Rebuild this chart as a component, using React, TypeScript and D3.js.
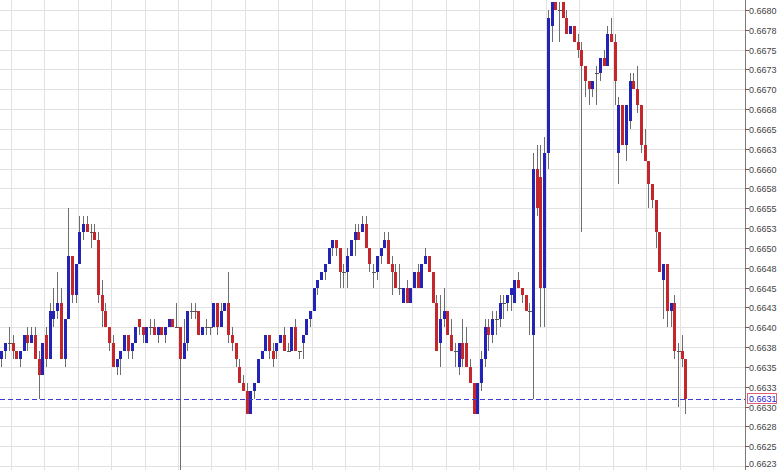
import React from "react";
import * as d3 from "d3";

// OHLC quotes, one bar per period, oldest first
const opens = [
  0.6636, 0.6637, 0.6638, 0.6638, 0.6637, 0.6636, 0.6637, 0.6639, 0.6638, 0.6639,
  0.6636, 0.6634, 0.6639, 0.6636, 0.6641, 0.6642, 0.6643, 0.6636, 0.6641, 0.6649,
  0.6644, 0.6648, 0.6652, 0.6653, 0.6652, 0.6652, 0.6651, 0.6644, 0.6642, 0.6640,
  0.6638, 0.6635, 0.6636, 0.6637, 0.6639, 0.6637, 0.6638, 0.6641, 0.6640, 0.6638,
  0.6640, 0.6640, 0.6639, 0.6640, 0.6639, 0.6640, 0.6641, 0.6640, 0.6640, 0.6636,
  0.6638, 0.6642, 0.6642, 0.6642, 0.6639, 0.6640, 0.6640, 0.6640, 0.6643, 0.6640,
  0.6642, 0.6643, 0.6639, 0.6638, 0.6635, 0.6633, 0.6632, 0.6629, 0.6632, 0.6633,
  0.6636, 0.6637, 0.6639, 0.6637, 0.6637, 0.6638, 0.6639, 0.6637, 0.6637, 0.6640,
  0.6637, 0.6638, 0.6639, 0.6641, 0.6642, 0.6645, 0.6646, 0.6647, 0.6648, 0.6650,
  0.6651, 0.6650, 0.6647, 0.6647, 0.6649, 0.6651, 0.6652, 0.6652, 0.6653, 0.6650,
  0.6647, 0.6647, 0.6649, 0.6650, 0.6651, 0.6648, 0.6647, 0.6645, 0.6643, 0.6645,
  0.6643, 0.6645, 0.6647, 0.6645, 0.6648, 0.6649, 0.6647, 0.6643, 0.6638, 0.6641,
  0.6642, 0.6639, 0.6637, 0.6635, 0.6638, 0.6638, 0.6635, 0.6633, 0.6629, 0.6633,
  0.6636, 0.6640, 0.6639, 0.6641, 0.6641, 0.6643, 0.6643, 0.6644, 0.6643, 0.6646,
  0.6645, 0.6644, 0.6642, 0.6639, 0.6660, 0.6659, 0.6645, 0.6662, 0.6678, 0.6681,
  0.6680, 0.6681, 0.6679, 0.6677, 0.6678, 0.6676, 0.6675, 0.6673, 0.6671, 0.6670,
  0.6672, 0.6672, 0.6674, 0.6673, 0.6677, 0.6676, 0.6662, 0.6668, 0.6663, 0.6666,
  0.6671, 0.6670, 0.6668, 0.6663, 0.6661, 0.6658, 0.6656, 0.6652, 0.6646, 0.6648,
  0.6642, 0.6643, 0.6637, 0.6637, 0.6636,
];

const highs = [
  0.6637, 0.6638, 0.6640, 0.6639, 0.6637, 0.6637, 0.6639, 0.6640, 0.6640, 0.6640,
  0.6637, 0.6638, 0.6640, 0.6643, 0.6645, 0.6647, 0.6645, 0.6641, 0.6655, 0.6649,
  0.6648, 0.6654, 0.6654, 0.6654, 0.6653, 0.6653, 0.6652, 0.6646, 0.6643, 0.6640,
  0.6639, 0.6636, 0.6637, 0.6639, 0.6639, 0.6638, 0.6640, 0.6641, 0.6640, 0.6640,
  0.6641, 0.6641, 0.6640, 0.6640, 0.6640, 0.6641, 0.6641, 0.6643, 0.6640, 0.6641,
  0.6642, 0.6643, 0.6643, 0.6642, 0.6640, 0.6641, 0.6640, 0.6643, 0.6643, 0.6643,
  0.6643, 0.6647, 0.6640, 0.6638, 0.6636, 0.6634, 0.6633, 0.6632, 0.6633, 0.6636,
  0.6637, 0.6639, 0.6639, 0.6638, 0.6638, 0.6639, 0.6640, 0.6638, 0.6640, 0.6641,
  0.6637, 0.6639, 0.6641, 0.6642, 0.6645, 0.6646, 0.6647, 0.6648, 0.6650, 0.6651,
  0.6651, 0.6650, 0.6648, 0.6650, 0.6651, 0.6653, 0.6653, 0.6654, 0.6654, 0.6650,
  0.6648, 0.6649, 0.6650, 0.6652, 0.6652, 0.6649, 0.6648, 0.6648, 0.6645, 0.6646,
  0.6645, 0.6647, 0.6648, 0.6648, 0.6650, 0.6649, 0.6647, 0.6644, 0.6644, 0.6645,
  0.6642, 0.6641, 0.6638, 0.6638, 0.6641, 0.6640, 0.6636, 0.6633, 0.6633, 0.6637,
  0.6641, 0.6641, 0.6642, 0.6642, 0.6644, 0.6644, 0.6644, 0.6645, 0.6646, 0.6647,
  0.6645, 0.6644, 0.6643, 0.6662, 0.6663, 0.6663, 0.6664, 0.6680, 0.6681, 0.6681,
  0.6681, 0.6681, 0.6680, 0.6678, 0.6678, 0.6677, 0.6676, 0.6673, 0.6671, 0.6671,
  0.6673, 0.6674, 0.6675, 0.6678, 0.6679, 0.6677, 0.6669, 0.6668, 0.6668, 0.6672,
  0.6672, 0.6673, 0.6668, 0.6665, 0.6661, 0.6658, 0.6656, 0.6652, 0.6648, 0.6648,
  0.6643, 0.6644, 0.6638, 0.6639, 0.6636,
];

const lows = [
  0.6635, 0.6636, 0.6637, 0.6636, 0.6636, 0.6635, 0.6637, 0.6637, 0.6638, 0.6636,
  0.6631, 0.6634, 0.6635, 0.6636, 0.6640, 0.6641, 0.6636, 0.6635, 0.6641, 0.6643,
  0.6643, 0.6648, 0.6651, 0.6652, 0.6650, 0.6651, 0.6643, 0.6640, 0.6640, 0.6637,
  0.6635, 0.6634, 0.6634, 0.6637, 0.6636, 0.6636, 0.6638, 0.6639, 0.6638, 0.6638,
  0.6639, 0.6639, 0.6638, 0.6639, 0.6638, 0.6640, 0.6640, 0.6640, 0.6622, 0.6636,
  0.6637, 0.6641, 0.6641, 0.6639, 0.6639, 0.6639, 0.6639, 0.6640, 0.6639, 0.6640,
  0.6642, 0.6638, 0.6637, 0.6635, 0.6633, 0.6632, 0.6629, 0.6629, 0.6631, 0.6633,
  0.6636, 0.6637, 0.6636, 0.6635, 0.6636, 0.6638, 0.6637, 0.6637, 0.6637, 0.6637,
  0.6636, 0.6636, 0.6639, 0.6640, 0.6642, 0.6644, 0.6646, 0.6646, 0.6648, 0.6649,
  0.6649, 0.6645, 0.6645, 0.6645, 0.6649, 0.6649, 0.6651, 0.6652, 0.6650, 0.6647,
  0.6645, 0.6646, 0.6648, 0.6650, 0.6648, 0.6644, 0.6645, 0.6644, 0.6643, 0.6643,
  0.6643, 0.6645, 0.6645, 0.6645, 0.6648, 0.6647, 0.6643, 0.6637, 0.6635, 0.6640,
  0.6639, 0.6637, 0.6635, 0.6634, 0.6635, 0.6635, 0.6633, 0.6629, 0.6629, 0.6632,
  0.6635, 0.6637, 0.6638, 0.6639, 0.6640, 0.6641, 0.6642, 0.6642, 0.6643, 0.6645,
  0.6643, 0.6642, 0.6639, 0.6631, 0.6654, 0.6640, 0.6640, 0.6660, 0.6676, 0.6680,
  0.6676, 0.6679, 0.6677, 0.6677, 0.6676, 0.6674, 0.6652, 0.6669, 0.6668, 0.6669,
  0.6668, 0.6671, 0.6673, 0.6673, 0.6676, 0.6668, 0.6658, 0.6663, 0.6661, 0.6665,
  0.6670, 0.6667, 0.6662, 0.6661, 0.6655, 0.6655, 0.6650, 0.6647, 0.6641, 0.6640,
  0.6640, 0.6636, 0.6630, 0.6635, 0.6629,
];

const closes = [
  0.6637, 0.6638, 0.6638, 0.6637, 0.6636, 0.6637, 0.6639, 0.6638, 0.6639, 0.6636,
  0.6634, 0.6638, 0.6636, 0.6642, 0.6642, 0.6643, 0.6636, 0.6641, 0.6649, 0.6644,
  0.6648, 0.6652, 0.6653, 0.6652, 0.6652, 0.6651, 0.6644, 0.6642, 0.6640, 0.6638,
  0.6635, 0.6636, 0.6637, 0.6639, 0.6637, 0.6638, 0.6640, 0.6640, 0.6639, 0.6640,
  0.6640, 0.6639, 0.6640, 0.6639, 0.6640, 0.6641, 0.6640, 0.6640, 0.6636, 0.6638,
  0.6642, 0.6642, 0.6642, 0.6639, 0.6640, 0.6640, 0.6640, 0.6643, 0.6640, 0.6642,
  0.6643, 0.6639, 0.6638, 0.6636, 0.6633, 0.6632, 0.6629, 0.6632, 0.6633, 0.6636,
  0.6637, 0.6639, 0.6637, 0.6636, 0.6638, 0.6639, 0.6637, 0.6637, 0.6640, 0.6637,
  0.6637, 0.6639, 0.6641, 0.6642, 0.6645, 0.6646, 0.6647, 0.6648, 0.6650, 0.6651,
  0.6650, 0.6647, 0.6647, 0.6649, 0.6651, 0.6652, 0.6651, 0.6653, 0.6650, 0.6648,
  0.6647, 0.6649, 0.6650, 0.6651, 0.6648, 0.6647, 0.6645, 0.6645, 0.6645, 0.6643,
  0.6645, 0.6647, 0.6645, 0.6648, 0.6649, 0.6647, 0.6643, 0.6637, 0.6641, 0.6642,
  0.6639, 0.6637, 0.6637, 0.6638, 0.6636, 0.6635, 0.6633, 0.6629, 0.6633, 0.6636,
  0.6640, 0.6639, 0.6641, 0.6641, 0.6643, 0.6643, 0.6644, 0.6645, 0.6646, 0.6645,
  0.6644, 0.6642, 0.6642, 0.6660, 0.6655, 0.6645, 0.6662, 0.6679, 0.6681, 0.6680,
  0.6680, 0.6679, 0.6677, 0.6678, 0.6676, 0.6675, 0.6673, 0.6671, 0.6670, 0.6671,
  0.6672, 0.6674, 0.6673, 0.6677, 0.6676, 0.6671, 0.6668, 0.6663, 0.6668, 0.6671,
  0.6670, 0.6668, 0.6663, 0.6661, 0.6658, 0.6656, 0.6652, 0.6647, 0.6648, 0.6642,
  0.6643, 0.6637, 0.6637, 0.6636, 0.6631,
];

// Price axis ticks (quarter-pip steps) and their printed labels
const tickValues = [
  0.668, 0.66775, 0.6675, 0.66725, 0.667, 0.66675, 0.6665, 0.66625,
  0.666, 0.66575, 0.6655, 0.66525, 0.665, 0.66475, 0.6645, 0.66425,
  0.664, 0.66375, 0.6635, 0.66325, 0.663, 0.66275, 0.6625, 0.66225,
];
const tickLabels = [
  "0.6680", "0.6678", "0.6675", "0.6673", "0.6670", "0.6668", "0.6665", "0.6663",
  "0.6660", "0.6658", "0.6655", "0.6653", "0.6650", "0.6648", "0.6645", "0.6643",
  "0.6640", "0.6638", "0.6635", "0.6633", "0.6630", "0.6628", "0.6625", "0.6623",
];

const W = 780;
const H = 470;
const PLOT_R = 745;
const UP = "#2323b6";
const DOWN = "#c3272c";
const WICK = "#6e6e6e";
const GRID = "#e2e2e2";
const BARS_PER_GRID = 9;

export default function App() {
  const n = opens.length;
  const x = d3.scaleLinear().domain([0, n - 1]).range([1.4, 685.4]);
  const y = d3.scaleLinear().domain([0.66225, 0.668]).range([466, 10]);

  const gridX: number[] = [];
  for (let i = 2.5; x(i) < PLOT_R; i += BARS_PER_GRID) gridX.push(Math.round(x(i)) + 0.5);

  const last = closes[n - 1];
  const yLast = Math.round(y(last)) + 0.5;

  return (
    <svg
      width={W}
      height={H}
      style={{ position: "absolute", left: 0, top: 0, background: "#fff" }}
      fontFamily="'Liberation Sans', Arial, sans-serif"
    >
      <defs>
        <clipPath id="plot">
          <rect x={0} y={0} width={PLOT_R} height={H} />
        </clipPath>
      </defs>

      {/* grid */}
      <g stroke={GRID} strokeWidth={1}>
        {tickValues.map((v) => {
          const yy = Math.round(y(v)) + 0.5;
          return <line key={"h" + v} x1={0} x2={PLOT_R} y1={yy} y2={yy} />;
        })}
        {gridX.map((gx) => (
          <line key={"v" + gx} x1={gx} x2={gx} y1={0} y2={H} />
        ))}
      </g>

      {/* candles */}
      <g clipPath="url(#plot)">
        {opens.map((o, i) => {
          const c = closes[i];
          const cx = Math.round(x(i));
          const yH = Math.round(y(highs[i]));
          const yL = Math.round(y(lows[i]));
          const yO = Math.round(y(o));
          const yC = Math.round(y(c));
          const top = Math.min(yO, yC);
          const h = Math.abs(yO - yC);
          return (
            <g key={i}>
              <rect x={cx} y={yH} width={1} height={Math.max(1, yL - yH)} fill={WICK} />
              {h === 0 ? (
                <rect x={cx - 1} y={top} width={4} height={1} fill="#555" />
              ) : (
                <rect x={cx - 1} y={top} width={3} height={h} fill={c > o ? UP : DOWN} />
              )}
            </g>
          );
        })}
      </g>

      {/* last price line */}
      <line
        x1={0}
        x2={PLOT_R}
        y1={yLast}
        y2={yLast}
        stroke="#3c3cd8"
        strokeWidth={1}
        strokeDasharray="5,3"
      />

      {/* price axis */}
      <line x1={PLOT_R + 0.5} x2={PLOT_R + 0.5} y1={0} y2={H} stroke="#7a7a7a" />
      {tickValues.map((v, k) => {
        const yy = Math.round(y(v)) + 0.5;
        const ty = Math.min(yy, H - 6);
        return (
          <g key={"t" + v}>
            <line x1={PLOT_R} x2={PLOT_R + 4} y1={yy} y2={yy} stroke="#7a5a5a" />
            <text x={PLOT_R + 4} y={ty} dy="0.35em" fontSize={9} fill="#444">
              {tickLabels[k]}
            </text>
          </g>
        );
      })}

      {/* last price marker */}
      <rect
        x={PLOT_R + 2.5}
        y={yLast - 6}
        width={29}
        height={10}
        fill="#fff"
        stroke="#e0607c"
      />
      <text x={PLOT_R + 4} y={yLast - 1} dy="0.35em" fontSize={9} fill="#2424dc">
        {last.toFixed(4)}
      </text>
    </svg>
  );
}
